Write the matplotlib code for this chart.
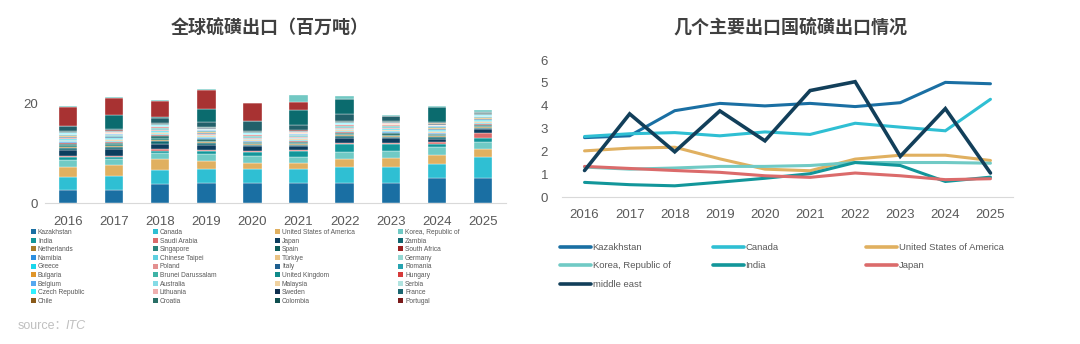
import matplotlib

matplotlib.use("Agg")
import matplotlib.pyplot as plt
import numpy as np
from matplotlib.lines import Line2D
from matplotlib.patches import Patch

plt.rcParams["font.family"] = ["Liberation Sans", "Noto Sans CJK SC", "DejaVu Sans"]

years = [2016, 2017, 2018, 2019, 2020, 2021, 2022, 2023, 2024, 2025]

# main exporters (million t), shared by both panels
kazakhstan = [2.6, 2.68, 3.78, 4.1, 3.99, 4.1, 3.96, 4.13, 5.02, 4.96]
canada = [2.65, 2.77, 2.82, 2.68, 2.85, 2.74, 3.23, 3.06, 2.9, 4.28]
usa = [2.02, 2.14, 2.18, 1.67, 1.22, 1.15, 1.66, 1.83, 1.83, 1.6]
korea = [1.31, 1.22, 1.27, 1.34, 1.34, 1.38, 1.51, 1.51, 1.51, 1.48]
india = [0.64, 0.54, 0.49, 0.65, 0.82, 1.02, 1.51, 1.38, 0.68, 0.87]
japan = [1.34, 1.25, 1.16, 1.08, 0.93, 0.86, 1.05, 0.93, 0.76, 0.8]
middle_east = [1.16, 3.64, 1.98, 3.77, 2.46, 4.66, 5.05, 1.78, 3.87, 1.05]

# smaller exporters in the stacked chart
saudi_arabia = [0.2, 0.2, 0.25, 0.25, 0.3, 0.25, 0.2, 0.2, 0.3, 0.9]
zambia = [0.4, 0.4, 0.5, 0.3, 0.2, 0.25, 0.3, 0.3, 0.25, 0.25]
netherlands = [0.2, 0.25, 0.3, 0.2, 0.15, 0.2, 0.2, 0.2, 0.2, 0.2]
singapore = [0.3, 0.35, 0.4, 0.3, 0.2, 0.2, 0.25, 0.25, 0.2, 0.2]
spain = [0.3, 0.3, 0.35, 0.25, 0.2, 0.2, 0.25, 0.25, 0.2, 0.2]
south_africa = [0.15, 0.15, 0.2, 0.15, 0.1, 0.15, 0.15, 0.1, 0.1, 0.15]
namibia = [0.1, 0.1, 0.1, 0.1, 0.1, 0.1, 0.1, 0.1, 0.1, 0.1]
chinese_taipei = [0.2, 0.2, 0.2, 0.2, 0.15, 0.15, 0.2, 0.2, 0.15, 0.2]
turkiye = [0.15, 0.15, 0.15, 0.15, 0.15, 0.15, 0.15, 0.2, 0.15, 0.15]
germany = [0.2, 0.2, 0.2, 0.2, 0.15, 0.15, 0.15, 0.15, 0.15, 0.15]
greece = [0.15, 0.15, 0.15, 0.15, 0.1, 0.1, 0.15, 0.15, 0.15, 0.15]
poland = [0.15, 0.15, 0.15, 0.15, 0.15, 0.1, 0.1, 0.15, 0.15, 0.1]
italy = [0.15, 0.15, 0.15, 0.15, 0.1, 0.1, 0.1, 0.1, 0.1, 0.1]
romania = [0.1, 0.1, 0.1, 0.1, 0.1, 0.1, 0.1, 0.1, 0.1, 0.1]
bulgaria = [0.1, 0.1, 0.1, 0.1, 0.1, 0.1, 0.1, 0.1, 0.1, 0.1]
brunei = [0.1, 0.1, 0.1, 0.1, 0.1, 0.1, 0.1, 0.1, 0.1, 0.1]
united_kingdom = [0.1, 0.1, 0.1, 0.1, 0.1, 0.1, 0.1, 0.1, 0.1, 0.1]
hungary = [0.05, 0.05, 0.05, 0.05, 0.05, 0.05, 0.05, 0.05, 0.05, 0.05]
belgium = [0.1, 0.1, 0.1, 0.1, 0.1, 0.1, 0.1, 0.1, 0.1, 0.1]
australia = [0.08, 0.08, 0.08, 0.08, 0.08, 0.08, 0.08, 0.08, 0.08, 0.08]
malaysia = [0.1, 0.1, 0.1, 0.1, 0.1, 0.1, 0.1, 0.1, 0.1, 0.1]
serbia = [0.05, 0.05, 0.05, 0.05, 0.05, 0.05, 0.05, 0.05, 0.05, 0.05]
czech_republic = [0.05, 0.05, 0.05, 0.05, 0.05, 0.05, 0.05, 0.05, 0.05, 0.05]
lithuania = [0.05, 0.05, 0.05, 0.05, 0.05, 0.05, 0.05, 0.05, 0.05, 0.05]
sweden = [0.1, 0.1, 0.1, 0.1, 0.1, 0.1, 0.1, 0.1, 0.1, 0.1]
france = [0.12, 0.12, 0.12, 0.12, 0.12, 0.12, 0.12, 0.12, 0.12, 0.12]
chile = [0.04, 0.04, 0.04, 0.04, 0.04, 0.04, 0.04, 0.04, 0.04, 0.04]
croatia = [0.04, 0.04, 0.04, 0.04, 0.04, 0.04, 0.04, 0.04, 0.04, 0.04]
colombia = [0.08, 0.08, 0.08, 0.08, 0.08, 0.08, 0.08, 0.08, 0.08, 0.08]
portugal = [0.04, 0.04, 0.04, 0.04, 0.04, 0.04, 0.04, 0.04, 0.04, 0.04]
# series stacked above the ones that fit in the legend
unlisted_a = [1.0, 0.3, 1.1, 1.0, 2.1, 1.0, 1.5, 1.0, 0.2, 0.3]
unlisted_b = [0.0, 2.8, 0.2, 2.5, 0.0, 3.0, 3.0, 0.0, 3.0, 0.0]
unlisted_c = [3.9, 3.5, 3.2, 4.0, 3.5, 1.7, 0.0, 0.1, 0.0, 0.0]
unlisted_d = [0.15, 0.15, 0.2, 0.15, 0.15, 1.5, 0.6, 0.15, 0.1, 0.4]

stack_labels = [
    "Kazakhstan", "Canada", "United States of America", "Korea, Republic of",
    "India", "Saudi Arabia", "Japan", "Zambia",
    "Netherlands", "Singapore", "Spain", "South Africa",
    "Namibia", "Chinese Taipei", "Türkiye", "Germany",
    "Greece", "Poland", "Italy", "Romania",
    "Bulgaria", "Brunei Darussalam", "United Kingdom", "Hungary",
    "Belgium", "Australia", "Malaysia", "Serbia",
    "Czech Republic", "Lithuania", "Sweden", "France",
    "Chile", "Croatia", "Colombia", "Portugal",
]
stack_values = [
    kazakhstan, canada, usa, korea, india, saudi_arabia, japan, zambia,
    netherlands, singapore, spain, south_africa, namibia, chinese_taipei, turkiye, germany,
    greece, poland, italy, romania, bulgaria, brunei, united_kingdom, hungary,
    belgium, australia, malaysia, serbia, czech_republic, lithuania, sweden, france,
    chile, croatia, colombia, portugal,
]
unlisted_values = [unlisted_a, unlisted_b, unlisted_c, unlisted_d]

stack_colors = [
    "#1a6fa3", "#2fbfd3", "#e0b060", "#70cac5", "#12969a", "#db6b6b", "#0d3d5e", "#0f6670",
    "#a87b2a", "#2b857d", "#0d5c5a", "#9b1f1f", "#2e8fe0", "#5fd0e0", "#eac384", "#94d8d3",
    "#19d7ec", "#e39090", "#1f5f8f", "#26a3b0", "#e0962a", "#3fb3a6", "#108a8a", "#d63a3a",
    "#55a8f0", "#85dbe6", "#f0d2a0", "#b0e3df", "#30f0ff", "#efb0b0", "#0e2e4e", "#1a6670",
    "#8a5a1a", "#2a6f66", "#0f4f4f", "#7a1a1a",
]
unlisted_colors = ["#22606a", "#0b6b6e", "#a83232", "#72c8c3"]

line_labels = ["Kazakhstan", "Canada", "United States of America", "Korea, Republic of",
               "India", "Japan", "middle east"]
line_values = [kazakhstan, canada, usa, korea, india, japan, middle_east]
line_colors = ["#1a6fa3", "#2fbfd3", "#e0b060", "#70cac5", "#12969a", "#db6b6b", "#123f5a"]

text_color = "#595959"
axis_color = "#d9d9d9"

fig = plt.figure(figsize=(10.8, 3.44), dpi=100)
W, H = 1080, 344


def px_axes(x0, y0, x1, y1):
    return fig.add_axes([x0 / W, 1 - y1 / H, (x1 - x0) / W, (y1 - y0) / H])


def style_axis(ax):
    for side in ("top", "right", "left"):
        ax.spines[side].set_visible(False)
    ax.spines["bottom"].set_color(axis_color)
    ax.tick_params(length=0, colors=text_color, labelsize=9.5)


# left: stacked columns
ax1 = px_axes(45, 79, 506, 203)
x = np.arange(len(years))
bottom = np.zeros(len(years))
for vals, color in zip(stack_values + unlisted_values, stack_colors + unlisted_colors):
    ax1.bar(x, vals, width=0.4, bottom=bottom, color=color, edgecolor="white", linewidth=0.25)
    bottom += np.array(vals)
ax1.set_xlim(-0.5, len(years) - 0.5)
ax1.set_ylim(0, 25)
ax1.set_yticks([0, 20])
ax1.set_xticks(x)
ax1.set_xticklabels([str(y) for y in years])
style_axis(ax1)
ax1.tick_params(axis="x", pad=9)
ax1.tick_params(axis="y", pad=5)
fig.text(270 / W, 1 - 28 / H, "全球硫磺出口（百万吨）", ha="center", va="center",
         fontsize=13, fontweight="bold", color="#404040", family="Noto Sans CJK SC")

# left legend: four columns filled row by row
col_x = [31, 153, 275, 398]
for c in range(4):
    idx = list(range(c, len(stack_labels), 4))
    handles = [Patch(facecolor=stack_colors[i], edgecolor="none") for i in idx]
    fig.legend(handles, [stack_labels[i] for i in idx], loc="upper left",
               bbox_to_anchor=(col_x[c] / W, 1 - 229 / H), frameon=False, fontsize=4.8,
               handlelength=0.75, handleheight=0.75, handletextpad=0.3, labelspacing=0.24,
               borderpad=0, borderaxespad=0, labelcolor=text_color)

# right: lines
ax2 = px_axes(562, 60, 1013, 197)
for vals, color, label in zip(line_values, line_colors, line_labels):
    lw = 2.6 if label == "middle east" else 2.2
    ax2.plot(x, vals, color=color, linewidth=lw, solid_capstyle="round", solid_joinstyle="miter")
ax2.set_xlim(-0.5, len(years) - 0.5)
ax2.set_ylim(0, 6)
ax2.set_yticks(range(0, 7))
ax2.set_xticks(x)
ax2.set_xticklabels([str(y) for y in years])
style_axis(ax2)
ax2.tick_params(axis="x", pad=9)
ax2.tick_params(axis="y", pad=10)
fig.text(790 / W, 1 - 28 / H, "几个主要出口国硫磺出口情况", ha="center", va="center",
         fontsize=13, fontweight="bold", color="#404040", family="Noto Sans CJK SC")

# right legend: three columns filled row by row
rcol_x = [560, 713, 866]
for c in range(3):
    idx = list(range(c, len(line_labels), 3))
    handles = [Line2D([], [], color=line_colors[i], linewidth=2.6, solid_capstyle="round") for i in idx]
    fig.legend(handles, [line_labels[i] for i in idx], loc="upper left",
               bbox_to_anchor=(rcol_x[c] / W, 1 - 243 / H), frameon=False, fontsize=6.8,
               handlelength=3.3, handletextpad=0.15, labelspacing=1.0,
               borderpad=0, borderaxespad=0, labelcolor=text_color)

fig.text(18 / W, 1 - 326 / H, "source：", ha="left", va="center", fontsize=9,
         color="#c0c0c0", family=["Liberation Sans", "Noto Sans CJK SC"])
fig.text(66 / W, 1 - 326 / H, "ITC", ha="left", va="center", fontsize=9,
         color="#c0c0c0", style="italic")

fig.savefig("out.png", dpi=100)
